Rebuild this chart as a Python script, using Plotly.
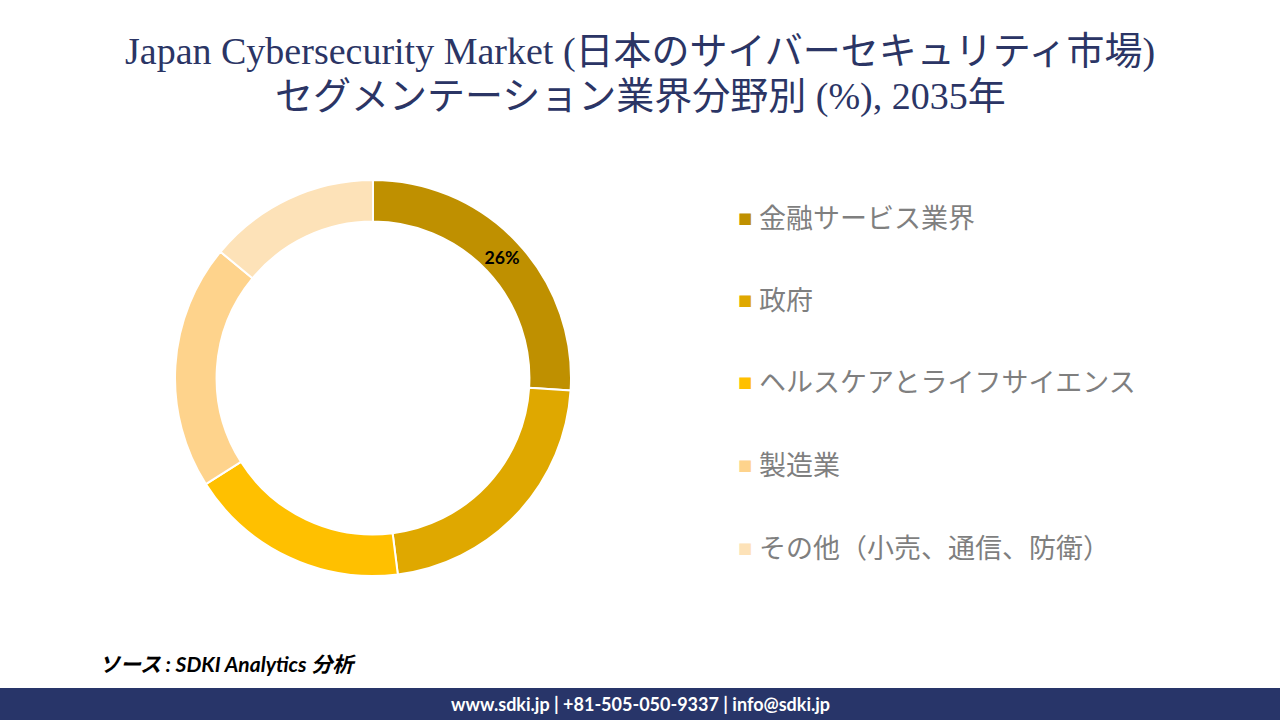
import plotly.graph_objects as go

categories = ["金融サービス業界", "政府", "ヘルスケアとライフサイエンス", "製造業", "その他（小売、通信、防衛）"]
shares = [26, 22, 18, 20, 14]
colors = ["#BF9000", "#DFA800", "#FFC000", "#FED38C", "#FDE2B8"]
label_shown = [True, False, False, False, False]

title_l1 = "Japan Cybersecurity Market (日本のサイバーセキュリティ市場)"
title_l2 = "セグメンテーション業界分野別 (%), 2035年"
source = "ソース : SDKI Analytics 分析"
footer = "www.sdki.jp | +81-505-050-9337 | info@sdki.jp"

W, H = 1280, 720
cx, cy, R = 373, 378, 198

fig = go.Figure()
fig.add_trace(go.Pie(
    labels=categories, values=shares, sort=False, direction="clockwise", rotation=0,
    hole=0.79,
    marker=dict(colors=colors, line=dict(color="white", width=2)),
    texttemplate=["%{percent:.0%}" if s else "" for s in label_shown],
    textposition="inside", insidetextorientation="horizontal",
    textfont=dict(family="Lato, Noto Sans, sans-serif", size=18, color="black", weight="bold"),
    showlegend=False, hoverinfo="label+percent",
    domain=dict(x=[(cx - R) / W, (cx + R) / W], y=[1 - (cy + R) / H, 1 - (cy - R) / H]),
))

annotations = []
for txt, yy in [(title_l1, 52), (title_l2, 97)]:
    annotations.append(dict(text=txt, x=0.5, y=1 - yy / H, xref="paper", yref="paper",
                            showarrow=False, xanchor="center", yanchor="middle",
                            font=dict(family="Liberation Serif, Noto Sans CJK JP, serif", size=38, color="#2B3565")))

row_y = [216, 298, 380, 463, 546]
for cat, col, yy in zip(categories, colors, row_y):
    annotations.append(dict(text="■", x=745 / W, y=1 - (yy + 2) / H, xref="paper", yref="paper",
                            showarrow=False, xanchor="center", yanchor="middle",
                            font=dict(family="DejaVu Sans", size=15, color=col)))
    annotations.append(dict(text=cat, x=757 / W, y=1 - yy / H, xref="paper", yref="paper",
                            showarrow=False, xanchor="left", yanchor="middle",
                            font=dict(family="Noto Sans CJK JP, sans-serif", size=27, color="#7F7F7F")))

annotations.append(dict(text="<b><i>" + source + "</i></b>", x=97 / W, y=1 - 663 / H, xref="paper", yref="paper",
                        showarrow=False, xanchor="left", yanchor="middle",
                        font=dict(family="Lato, Noto Sans CJK JP, sans-serif", size=21, color="black")))
annotations.append(dict(text="<b>" + footer + "</b>", x=0.5, y=1 - 704 / H, xref="paper", yref="paper",
                        showarrow=False, xanchor="center", yanchor="middle",
                        font=dict(family="Lato, Noto Sans, sans-serif", size=18, color="white")))

fig.update_layout(
    width=W, height=H, margin=dict(l=0, r=0, t=0, b=0),
    paper_bgcolor="white", plot_bgcolor="white",
    annotations=annotations,
    shapes=[dict(type="rect", xref="paper", yref="paper", x0=0, x1=1, y0=0, y1=1 - 688 / H,
                 fillcolor="#283569", line=dict(width=0), layer="below")],
)

fig.write_html("out.html")
